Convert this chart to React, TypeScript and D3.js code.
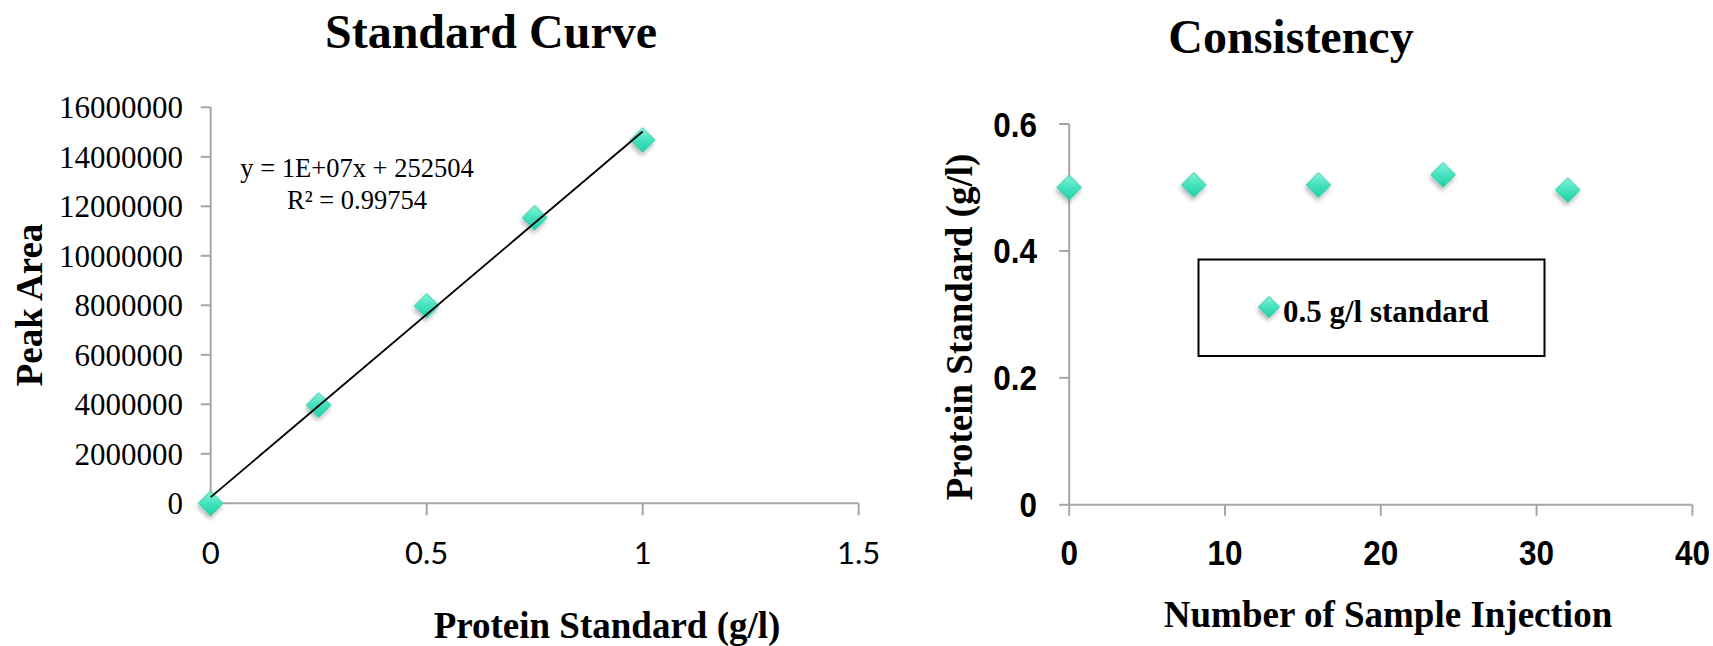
import React from "react";
import * as d3 from "d3";

// ---------- Data ----------
const stdConc = [0, 0.25, 0.5, 0.75, 1.0];
const stdArea = [0, 3970000, 7980000, 11540000, 14680000];
const leftYTicks = [0, 2000000, 4000000, 6000000, 8000000, 10000000, 12000000, 14000000, 16000000];
const leftXTicks = [0, 0.5, 1, 1.5];
const eqLine1 = "y = 1E+07x + 252504";
const eqLine2 = "R² = 0.99754";

const injections = [0, 8, 16, 24, 32];
const measured = [0.5, 0.504, 0.504, 0.52, 0.496];
const rightYTicks = [0, 0.2, 0.4, 0.6];
const rightXTicks = [0, 10, 20, 30, 40];
const legendLabel = "0.5 g/l standard";

const W = 1713;
const H = 646;
const SERIF = "'Liberation Serif', 'Times New Roman', serif";
const SANSB = "'Liberation Sans', Arial, sans-serif";
const AXIS = "#a6a6a6";

function regression(xs: number[], ys: number[]) {
  const mx = d3.mean(xs) as number;
  const my = d3.mean(ys) as number;
  let sxy = 0, sxx = 0;
  xs.forEach((x, i) => { sxy += (x - mx) * (ys[i] - my); sxx += (x - mx) * (x - mx); });
  const slope = sxy / sxx;
  return { slope, intercept: my - slope * mx };
}

const diamondPath = d3.symbol(d3.symbolSquare, 300)() as string;
const legendDiamondPath = d3.symbol(d3.symbolSquare, 220)() as string;

function Diamond({ x, y, path }: { x: number; y: number; path: string }) {
  return (
    <path
      d={path}
      transform={`translate(${x},${y}) rotate(45)`}
      fill="url(#mk)"
      stroke="#22c9a0"
      strokeWidth={0.8}
      filter="url(#sh)"
    />
  );
}

export default function App() {
  // Left chart scales
  const lx = d3.scaleLinear().domain([0, 1.5]).range([210.7, 858.7]);
  const ly = d3.scaleLinear().domain([0, 16000000]).range([503.3, 107.3]);
  const reg = regression(stdConc, stdArea);
  const trend = d3.line<number>().x((d) => lx(d)).y((d) => ly(reg.intercept + reg.slope * d));

  // Right chart scales
  const rx = d3.scaleLinear().domain([0, 40]).range([1069.2, 1692.4]);
  const ry = d3.scaleLinear().domain([0, 0.6]).range([504.8, 124]);

  return (
    <svg
      width={W}
      height={H}
      style={{ position: "absolute", left: 0, top: 0, background: "#fff" }}
    >
      <defs>
        <linearGradient id="mk" x1="0" y1="0" x2="1" y2="1">
          <stop offset="0" stopColor="#86f3da" />
          <stop offset="0.5" stopColor="#45e2bf" />
          <stop offset="1" stopColor="#1fd0a4" />
        </linearGradient>
        <filter id="sh" x="-50%" y="-50%" width="200%" height="200%">
          <feDropShadow dx="1.5" dy="3" stdDeviation="2" floodColor="#000" floodOpacity="0.3" />
        </filter>
      </defs>
      <rect x={0} y={0} width={W} height={H} fill="#fff" />

      {/* ===== Left chart ===== */}
      <text x={491} y={48} textAnchor="middle" fontFamily={SERIF} fontWeight="bold" fontSize={48}>
        Standard Curve
      </text>
      <line x1={lx(0)} x2={lx(0)} y1={ly(16000000)} y2={ly(0)} stroke={AXIS} strokeWidth={2} />
      {leftYTicks.map((t) => (
        <g key={"ly" + t}>
          <line x1={lx(0) - 10} x2={lx(0)} y1={ly(t)} y2={ly(t)} stroke={AXIS} strokeWidth={2} />
          <text x={183} y={ly(t) + 11} textAnchor="end" fontFamily={SERIF} fontSize={31}>
            {String(t)}
          </text>
        </g>
      ))}
      <line x1={lx(0)} x2={lx(1.5)} y1={ly(0)} y2={ly(0)} stroke={AXIS} strokeWidth={2} />
      {leftXTicks.map((t) => (
        <g key={"lx" + t}>
          <line x1={lx(t)} x2={lx(t)} y1={ly(0)} y2={ly(0) + 12} stroke={AXIS} strokeWidth={2} />
          <text x={lx(t)} y={564} textAnchor="middle" fontFamily="Lato, sans-serif" fontSize={31}>
            {String(t)}
          </text>
        </g>
      ))}
      <text x={607} y={638} textAnchor="middle" fontFamily={SERIF} fontWeight="bold" fontSize={37}>
        Protein Standard (g/l)
      </text>
      <text
        transform={`translate(42,305) rotate(-90)`}
        textAnchor="middle"
        fontFamily={SERIF}
        fontWeight="bold"
        fontSize={37}
      >
        Peak Area
      </text>
      {stdConc.map((c, i) => (
        <Diamond key={"ld" + i} x={lx(c)} y={ly(stdArea[i])} path={diamondPath} />
      ))}
      <path d={trend([0, 1]) as string} fill="none" stroke="#000" strokeWidth={1.8} />
      <text x={357} y={177} textAnchor="middle" fontFamily={SERIF} fontSize={26.5}>
        {eqLine1}
      </text>
      <text x={357} y={209} textAnchor="middle" fontFamily={SERIF} fontSize={26.5}>
        {eqLine2}
      </text>

      {/* ===== Right chart ===== */}
      <text x={1291} y={53} textAnchor="middle" fontFamily={SERIF} fontWeight="bold" fontSize={48}>
        Consistency
      </text>
      <line x1={rx(0)} x2={rx(0)} y1={ry(0.6)} y2={ry(0)} stroke={AXIS} strokeWidth={2} />
      {rightYTicks.map((t) => (
        <g key={"ry" + t}>
          <line x1={rx(0) - 10} x2={rx(0)} y1={ry(t)} y2={ry(t)} stroke={AXIS} strokeWidth={2} />
          <text
            transform={`translate(1037,${ry(t) + 12.5}) scale(0.9,1)`}
            textAnchor="end"
            fontFamily={SANSB}
            fontWeight="bold"
            fontSize={35}
          >
            {String(t)}
          </text>
        </g>
      ))}
      <line x1={rx(0)} x2={rx(40)} y1={ry(0)} y2={ry(0)} stroke={AXIS} strokeWidth={2} />
      {rightXTicks.map((t) => (
        <g key={"rx" + t}>
          <line x1={rx(t)} x2={rx(t)} y1={ry(0)} y2={ry(0) + 11} stroke={AXIS} strokeWidth={2} />
          <text
            transform={`translate(${rx(t)},565) scale(0.9,1)`}
            textAnchor="middle"
            fontFamily={SANSB}
            fontWeight="bold"
            fontSize={35}
          >
            {String(t)}
          </text>
        </g>
      ))}
      <text x={1388} y={627} textAnchor="middle" fontFamily={SERIF} fontWeight="bold" fontSize={37}>
        Number of Sample Injection
      </text>
      <text
        transform={`translate(972,327) rotate(-90)`}
        textAnchor="middle"
        fontFamily={SERIF}
        fontWeight="bold"
        fontSize={37}
      >
        Protein Standard (g/l)
      </text>
      {injections.map((n, i) => (
        <Diamond key={"rd" + i} x={rx(n)} y={ry(measured[i])} path={diamondPath} />
      ))}
      <rect x={1198.5} y={259.5} width={346} height={96.5} fill="#fff" stroke="#000" strokeWidth={2} />
      <Diamond x={1269} y={307} path={legendDiamondPath} />
      <text x={1283} y={321.5} fontFamily={SERIF} fontWeight="bold" fontSize={31}>
        {legendLabel}
      </text>
    </svg>
  );
}
